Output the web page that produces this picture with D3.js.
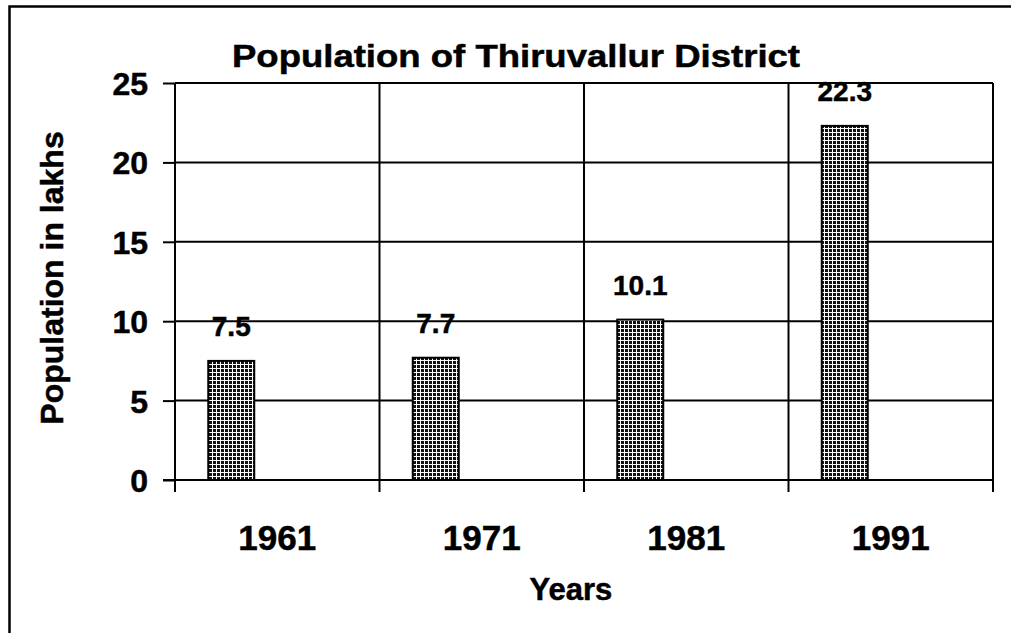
<!DOCTYPE html>
<html>
<head>
<meta charset="utf-8">
<script src="https://cdn.jsdelivr.net/npm/d3@7"></script>
<style>
  html, body { margin: 0; padding: 0; background: #fff; }
  svg { display: block; }
  text { font-family: "Liberation Sans", Arial, Helvetica, sans-serif; font-weight: bold; fill: #000; stroke: #000; stroke-width: 0.5; }
</style>
</head>
<body>
<svg id="chart" width="1011" height="633"></svg>
<script>
const years = ["1961", "1971", "1981", "1991"];
const population = [7.5, 7.7, 10.1, 22.3];
const yTicks = [0, 5, 10, 15, 20, 25];
const seriesSlots = ["Population", "slot2", "slot3"];
const titleText = "Population of Thiruvallur District";
const xTitle = "Years";
const yTitle = "Population in lakhs";

const svg = d3.select("#chart");
const W = 1011, H = 633;
const plot = { left: 175, right: 993, top: 83, bottom: 480 };

const defs = svg.append("defs");
const pat = defs.append("pattern")
  .attr("id", "grid").attr("patternUnits", "userSpaceOnUse")
  .attr("width", 4).attr("height", 4);
pat.append("rect").attr("width", 4).attr("height", 4).attr("fill", "#111");
pat.append("rect").attr("x", 0).attr("y", 0).attr("width", 4).attr("height", 1).attr("fill", "#fff");
pat.append("rect").attr("x", 0).attr("y", 0).attr("width", 1).attr("height", 4).attr("fill", "#fff");

svg.append("rect").attr("width", W).attr("height", H).attr("fill", "#fff");

svg.append("rect")
  .attr("x", 9.5).attr("y", 6.5).attr("width", 1200).attr("height", 1000)
  .attr("fill", "none").attr("stroke", "#000").attr("stroke-width", 2.5);

const x = d3.scaleBand().domain(years).range([plot.left, plot.right]).padding(0);
const xs = d3.scaleBand().domain(seriesSlots).range([0, x.bandwidth()]).paddingInner(0).paddingOuter(0.723);
const y = d3.scaleLinear().domain([0, 25]).range([plot.bottom, plot.top]);

svg.append("g").selectAll("line").data(yTicks.filter(d => d > 0)).join("line")
  .attr("x1", plot.left).attr("x2", plot.right)
  .attr("y1", d => y(d)).attr("y2", d => y(d))
  .attr("stroke", "#000").attr("stroke-width", 2);

const bounds = years.map(d => x(d) + x.bandwidth());
svg.append("g").selectAll("line").data(bounds).join("line")
  .attr("x1", d => d).attr("x2", d => d)
  .attr("y1", plot.top).attr("y2", plot.bottom + 12)
  .attr("stroke", "#000").attr("stroke-width", 2);

const yAxis = d3.axisLeft(y).tickValues(yTicks).tickSize(12).tickPadding(15).tickFormat(d3.format("d"));
const gy = svg.append("g").attr("transform", `translate(${plot.left},0)`).call(yAxis);
gy.select(".domain").remove();
gy.selectAll(".tick line").attr("stroke", "#000").attr("stroke-width", 2);
gy.selectAll(".tick text").attr("font-size", 32).attr("font-weight", "bold")
  .attr("font-family", "'Liberation Sans', Arial, sans-serif").attr("fill", "#000").attr("dy", "0.36em");
svg.append("line").attr("x1", plot.left).attr("x2", plot.left)
  .attr("y1", plot.top).attr("y2", plot.bottom + 12)
  .attr("stroke", "#000").attr("stroke-width", 2);

svg.append("line").attr("x1", plot.left - 12).attr("x2", plot.right)
  .attr("y1", plot.bottom).attr("y2", plot.bottom)
  .attr("stroke", "#000").attr("stroke-width", 2);

svg.append("g").selectAll("text").data(years).join("text")
  .attr("x", d => x(d) + x.bandwidth() / 2)
  .attr("y", 550)
  .attr("text-anchor", "middle")
  .attr("font-size", 35)
  .text(d => d);

svg.append("g").selectAll("rect").data(years).join("rect")
  .attr("x", d => x(d) + xs("Population"))
  .attr("width", xs.bandwidth())
  .attr("y", (d, i) => y(population[i]))
  .attr("height", (d, i) => plot.bottom - y(population[i]))
  .attr("fill", "url(#grid)")
  .attr("stroke", "#000").attr("stroke-width", 2);

svg.append("g").selectAll("text").data(years).join("text")
  .attr("x", d => x(d) + xs("Population") + xs.bandwidth() / 2)
  .attr("y", (d, i) => y(population[i]) - 25)
  .attr("text-anchor", "middle")
  .attr("font-size", 28)
  .text((d, i) => population[i].toFixed(1));

svg.append("text").attr("x", 516).attr("y", 67).attr("text-anchor", "middle")
  .attr("font-size", 32).attr("textLength", 568).attr("lengthAdjust", "spacingAndGlyphs")
  .text(titleText);

svg.append("text").attr("x", 571).attr("y", 600).attr("text-anchor", "middle")
  .attr("font-size", 31).text(xTitle);

svg.append("text").attr("transform", "translate(63,278) rotate(-90)")
  .attr("text-anchor", "middle").attr("font-size", 32).text(yTitle);
</script>
</body>
</html>
